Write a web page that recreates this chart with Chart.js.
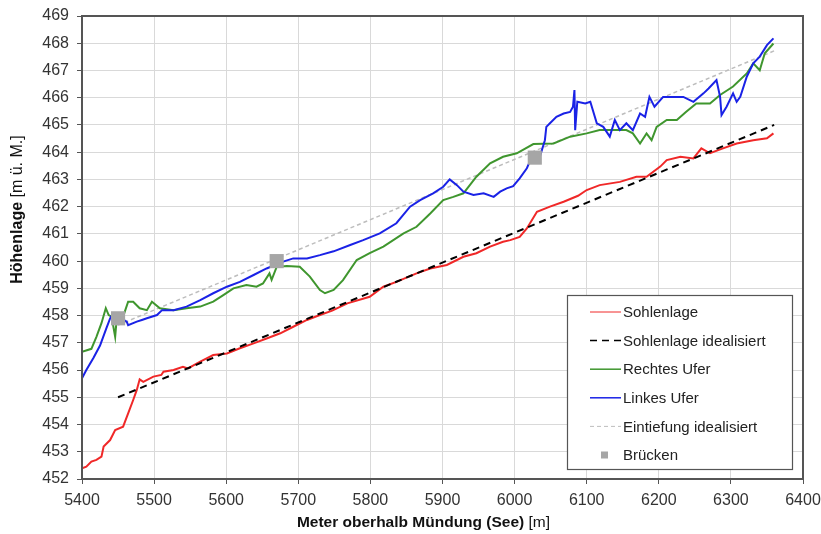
<!DOCTYPE html>
<html>
<head>
<meta charset="utf-8">
<script src="https://cdn.jsdelivr.net/npm/chart.js@4.4.1/dist/chart.umd.min.js"></script>
<style>
    html, body { margin: 0; padding: 0; background: #fff; }
    canvas { display: block; }
</style>
</head>
<body>
<canvas id="myChart" width="821" height="534"></canvas>
<script>
// axis ranges
const xRange = [5400, 6400];
const yRange = [452, 469];

// Sohlenlage (rot)
const sohleX = [5400, 5406, 5413, 5420, 5427, 5430, 5439, 5446, 5457, 5464, 5471, 5476, 5480, 5485, 5499, 5510, 5513, 5527, 5540, 5547,
    5564, 5582, 5601, 5619, 5638, 5656, 5675, 5693, 5712, 5730, 5747, 5768, 5799, 5818, 5836, 5864, 5883, 5906, 5929, 5947,
    5966, 5984, 5994, 6007, 6017, 6031, 6049, 6068, 6088, 6100, 6118, 6146, 6169, 6183, 6202, 6211, 6230, 6248, 6259, 6271,
    6289, 6308, 6331, 6350, 6359];
const sohleY = [452.39, 452.45, 452.64, 452.70, 452.82, 453.19, 453.43, 453.80, 453.92, 454.41, 454.90, 455.27, 455.66, 455.57, 455.76, 455.82, 455.94, 456.00, 456.12, 456.06,
    456.31, 456.55, 456.61, 456.80, 456.98, 457.16, 457.35, 457.59, 457.84, 458.02, 458.18, 458.45, 458.69, 459.06, 459.24, 459.55, 459.73, 459.86, 460.16, 460.29,
    460.53, 460.71, 460.77, 460.89, 461.20, 461.81, 462.00, 462.18, 462.40, 462.61, 462.79, 462.91, 463.10, 463.10, 463.47, 463.71, 463.83, 463.77, 464.14, 463.96,
    464.14, 464.32, 464.44, 464.51, 464.69];

// Sohlenlage idealisiert (schwarz gestrichelt)
const sohleIdealX = [5450, 6360];
const sohleIdealY = [455.0, 465.0];

// Rechtes Ufer (gruen)
const rechtsX = [5400, 5413, 5420, 5427, 5433, 5437, 5441, 5446, 5448, 5457, 5464, 5471, 5480, 5490, 5497, 5508, 5527, 5545, 5564, 5582,
    5596, 5610, 5628, 5642, 5651, 5660, 5663, 5670, 5684, 5702, 5716, 5730, 5737, 5749, 5762, 5781, 5799, 5818, 5846, 5864,
    5883, 5901, 5915, 5929, 5947, 5966, 5984, 6003, 6026, 6054, 6077, 6100, 6118, 6141, 6155, 6164, 6174, 6183, 6190, 6197,
    6211, 6225, 6238, 6252, 6271, 6285, 6303, 6322, 6331, 6340, 6347, 6359];
const rechtsY = [456.67, 456.78, 457.22, 457.72, 458.27, 458.02, 457.96, 457.22, 457.84, 457.96, 458.51, 458.51, 458.27, 458.20, 458.51, 458.27, 458.20, 458.27, 458.33, 458.51,
    458.75, 459.00, 459.12, 459.06, 459.18, 459.55, 459.31, 459.79, 459.82, 459.79, 459.43, 458.94, 458.82, 458.94, 459.30, 460.04, 460.29, 460.53, 461.02, 461.26,
    461.75, 462.24, 462.36, 462.49, 463.10, 463.59, 463.83, 463.96, 464.30, 464.32, 464.57, 464.69, 464.81, 464.81, 464.81, 464.69, 464.32, 464.69, 464.44, 464.93,
    465.18, 465.18, 465.48, 465.79, 465.79, 466.10, 466.41, 466.89, 467.26, 467.01, 467.63, 467.99];

// Linkes Ufer (blau)
const linksX = [5400, 5406, 5416, 5425, 5434, 5439, 5443, 5462, 5464, 5476, 5483, 5490, 5504, 5511, 5527, 5545, 5564, 5582, 5601, 5619,
    5638, 5656, 5679, 5693, 5712, 5730, 5749, 5772, 5790, 5813, 5836, 5855, 5869, 5887, 5901, 5910, 5920, 5929, 5943, 5957,
    5971, 5980, 5989, 5998, 6007, 6017, 6021, 6035, 6042, 6044, 6049, 6058, 6068, 6077, 6081, 6083, 6084, 6087, 6098, 6105,
    6114, 6123, 6132, 6139, 6146, 6155, 6164, 6174, 6181, 6187, 6194, 6206, 6220, 6234, 6248, 6262, 6269, 6280, 6285, 6287,
    6294, 6303, 6308, 6313, 6322, 6331, 6340, 6350, 6359];
const linksY = [455.70, 456.00, 456.45, 456.90, 457.55, 457.90, 458.08, 457.78, 457.65, 457.78, 457.84, 457.90, 458.02, 458.20, 458.20, 458.33, 458.57, 458.82, 459.06, 459.24,
    459.49, 459.73, 459.98, 460.10, 460.10, 460.22, 460.36, 460.59, 460.77, 461.02, 461.39, 462.00, 462.24, 462.49, 462.73, 463.00, 462.79, 462.55, 462.43, 462.49,
    462.36, 462.55, 462.67, 462.75, 463.04, 463.41, 463.65, 463.83, 464.44, 464.93, 465.06, 465.30, 465.42, 465.48, 465.67, 466.28, 464.81, 465.85, 465.79, 465.85,
    465.06, 464.93, 464.57, 465.18, 464.81, 465.06, 464.81, 465.42, 465.30, 466.03, 465.67, 466.03, 466.03, 466.03, 465.85, 466.16, 466.34, 466.65, 466.03, 465.36,
    465.67, 466.16, 465.85, 466.03, 466.77, 467.26, 467.51, 467.93, 468.18];

// Eintiefung idealisiert (grau gestrichelt)
const eintiefX = [5450, 6360];
const eintiefY = [457.65, 467.72];

// Bruecken
const brueckeX = [5450, 5670, 6028];
const brueckeY = [457.9, 460.0, 463.8];

function toPoints(xs, ys) {
    return xs.map(function (x, i) { return { x: x, y: ys[i] }; });
}

const fontFamily = '"Liberation Sans", Arial, sans-serif';

// Rahmen, Achsentitel + Legende im Diagramm
const extrasPlugin = {
    id: 'extras',
    afterDatasetsDraw(chart) {
        const ctx = chart.ctx;
        const a = chart.chartArea;
        ctx.save();
        ctx.strokeStyle = '#555';
        ctx.lineWidth = 2;
        ctx.strokeRect(a.left, a.top, a.right - a.left, a.bottom - a.top);
        ctx.restore();
    },
    afterDraw(chart) {
        const ctx = chart.ctx;
        const a = chart.chartArea;
        ctx.save();

        // x title
        ctx.fillStyle = '#111';
        ctx.textBaseline = 'middle';
        ctx.textAlign = 'left';
        const boldX = 'Meter oberhalb Mündung (See)';
        const normX = ' [m]';
        ctx.font = 'bold 15.5px ' + fontFamily;
        const w1 = ctx.measureText(boldX).width;
        ctx.font = '15.5px ' + fontFamily;
        const w2 = ctx.measureText(normX).width;
        let sx = (a.left + a.right) / 2 - 19 - (w1 + w2) / 2;
        ctx.font = 'bold 15.5px ' + fontFamily;
        ctx.fillText(boldX, sx, a.bottom + 44);
        ctx.font = '15.5px ' + fontFamily;
        ctx.fillText(normX, sx + w1, a.bottom + 44);

        // y title
        ctx.save();
        ctx.translate(18, (a.top + a.bottom) / 2 - 38);
        ctx.rotate(-Math.PI / 2);
        const boldY = 'Höhenlage';
        const normY = ' [m ü. M.]';
        ctx.font = 'bold 16px ' + fontFamily;
        const h1 = ctx.measureText(boldY).width;
        ctx.font = '16px ' + fontFamily;
        const h2 = ctx.measureText(normY).width;
        let sy = -(h1 + h2) / 2;
        ctx.font = 'bold 16px ' + fontFamily;
        ctx.fillText(boldY, sy, 0);
        ctx.font = '16px ' + fontFamily;
        ctx.fillText(normY, sy + h1, 0);
        ctx.restore();

        // legend box
        const bw = 225, bh = 174;
        const bx = a.right - 11 - bw;
        const by = a.bottom - 10 - bh;
        ctx.fillStyle = '#fff';
        ctx.fillRect(bx, by, bw, bh);
        ctx.strokeStyle = '#555';
        ctx.lineWidth = 1.2;
        ctx.strokeRect(bx + 0.5, by + 0.5, bw, bh);

        ctx.font = '15px ' + fontFamily;
        ctx.textBaseline = 'middle';
        chart.data.datasets.forEach(function (ds, i) {
            const cy = by + 17 + i * 28.6;
            if (ds.showLine === false) {
                ctx.fillStyle = ds.backgroundColor;
                ctx.fillRect(bx + 34, cy - 3.5, 7, 7);
            } else {
                ctx.strokeStyle = ds.borderColor;
                ctx.lineWidth = ds.legendWidth || ds.borderWidth;
                ctx.setLineDash(ds.borderDash || []);
                ctx.beginPath();
                ctx.moveTo(bx + 23, cy);
                ctx.lineTo(bx + 54, cy);
                ctx.stroke();
                ctx.setLineDash([]);
            }
            ctx.fillStyle = '#222';
            ctx.fillText(ds.label, bx + 56, cy + 1);
        });
        ctx.restore();
    }
};

const ctx = document.getElementById('myChart');

new Chart(ctx, {
    type: 'scatter',
    data: {
        datasets: [{
            label: 'Sohlenlage',
            data: toPoints(sohleX, sohleY),
            showLine: true,
            borderColor: '#f02828',
            borderWidth: 2,
            legendWidth: 1,
            pointRadius: 0,
            order: 3
        },
        {
            label: 'Sohlenlage idealisiert',
            data: toPoints(sohleIdealX, sohleIdealY),
            showLine: true,
            borderColor: '#000',
            borderWidth: 2,
            legendWidth: 1.5,
            borderDash: [7, 5],
            pointRadius: 0,
            order: 1
        },
        {
            label: 'Rechtes Ufer',
            data: toPoints(rechtsX, rechtsY),
            showLine: true,
            borderColor: '#3f962e',
            borderWidth: 2,
            legendWidth: 1.5,
            pointRadius: 0,
            order: 4
        },
        {
            label: 'Linkes Ufer',
            data: toPoints(linksX, linksY),
            showLine: true,
            borderColor: '#1a22e6',
            borderWidth: 2,
            legendWidth: 1.5,
            pointRadius: 0,
            order: 2
        },
        {
            label: 'Eintiefung idealisiert',
            data: toPoints(eintiefX, eintiefY),
            showLine: true,
            borderColor: '#bdbdbd',
            borderWidth: 1.5,
            legendWidth: 1,
            borderDash: [4, 3],
            pointRadius: 0,
            order: 5
        },
        {
            label: 'Brücken',
            data: toPoints(brueckeX, brueckeY),
            showLine: false,
            backgroundColor: '#a6a6a6',
            borderWidth: 0,
            pointStyle: 'rect',
            pointRadius: 10,
            order: 0
        }]
    },
    options: {
        responsive: false,
        animation: false,
        devicePixelRatio: 1,
        layout: {
            padding: { left: 0, right: 18, top: 16, bottom: 0 }
        },
        plugins: {
            legend: { display: false },
            tooltip: { enabled: false }
        },
        scales: {
            x: {
                type: 'linear',
                min: xRange[0],
                max: xRange[1],
                afterFit: function (scale) {
                    scale.height = 55;
                    scale.paddingLeft = 0;
                    scale.paddingRight = 0;
                },
                grid: {
                    color: '#d9d9d9',
                    lineWidth: 1,
                    tickLength: 5,
                    tickColor: '#555'
                },
                border: { color: '#555', width: 2 },
                ticks: {
                    stepSize: 100,
                    padding: 7,
                    color: '#333',
                    font: { size: 16, family: fontFamily },
                    maxRotation: 0,
                    callback: function (v) { return String(v); }
                }
            },
            y: {
                min: yRange[0],
                max: yRange[1],
                afterFit: function (scale) {
                    scale.width = 82;
                    scale.paddingTop = 0;
                    scale.paddingBottom = 0;
                },
                grid: {
                    color: '#d9d9d9',
                    lineWidth: 1,
                    tickLength: 5,
                    tickColor: '#555'
                },
                border: { color: '#555', width: 2 },
                ticks: {
                    stepSize: 1,
                    padding: 8,
                    color: '#333',
                    font: { size: 16, family: fontFamily },
                    callback: function (v) { return String(v); }
                }
            }
        }
    },
    plugins: [extrasPlugin]
});
</script>
</body>
</html>
